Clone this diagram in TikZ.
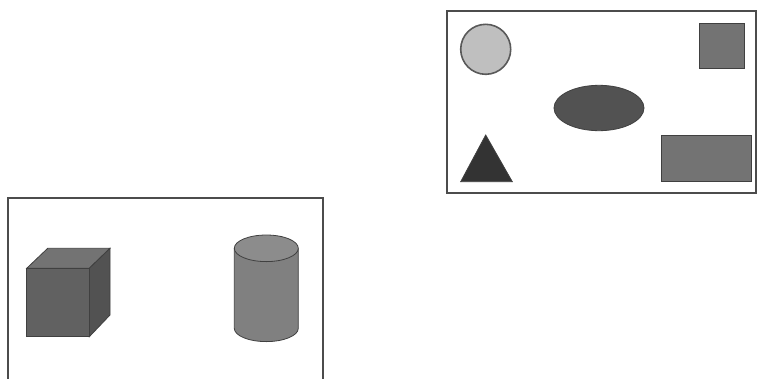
\documentclass[tikz,border=0pt]{standalone}
\begin{document}
\begin{tikzpicture}[x=1pt,y=-1pt,
  frame/.style={draw=black!70,line width=1.2pt},
  solid shape/.style={draw=black!75,line width=0.8pt}]
\useasboundingbox (0,0) rectangle (758,378);
% top-right panel
\draw[frame] (447,11) rectangle (756,193);
\draw[solid shape,draw=black!65,line width=1.6pt,fill=black!25] (485.7,49.3) circle[radius=25];
\draw[solid shape,fill=black!55] (699,23) rectangle (744,68);
\draw[solid shape,fill=black!68] (599,108) ellipse[x radius=45,y radius=22.7];
\draw[solid shape,fill=black!80] (485.7,135) -- (512.3,181.7) -- (460.7,181.7) -- cycle;
\draw[solid shape,fill=black!55] (661,135) rectangle (751,181.7);
% bottom-left panel
\draw[frame] (8,380) -- (8,198) -- (323,198) -- (323,380);
% cube
\draw[solid shape,fill=black!55] (26.7,268.3) -- (47.7,248.3) -- (110,248.3) -- (89.3,268.3) -- cycle;
\draw[solid shape,fill=black!68] (89.3,268.3) -- (110,248.3) -- (110,315) -- (89.3,336.7) -- cycle;
\draw[solid shape,fill=black!62] (26.7,268.3) rectangle (89.3,336.7);
% cylinder
\draw[solid shape,fill=black!50] (234.3,248.3) -- (234.3,328.3) arc[start angle=180,end angle=0,x radius=32,y radius=13.3] -- (298.3,248.3);
\draw[solid shape,fill=black!45] (266.3,248.3) ellipse[x radius=32,y radius=13.3];
\end{tikzpicture}
\end{document}
